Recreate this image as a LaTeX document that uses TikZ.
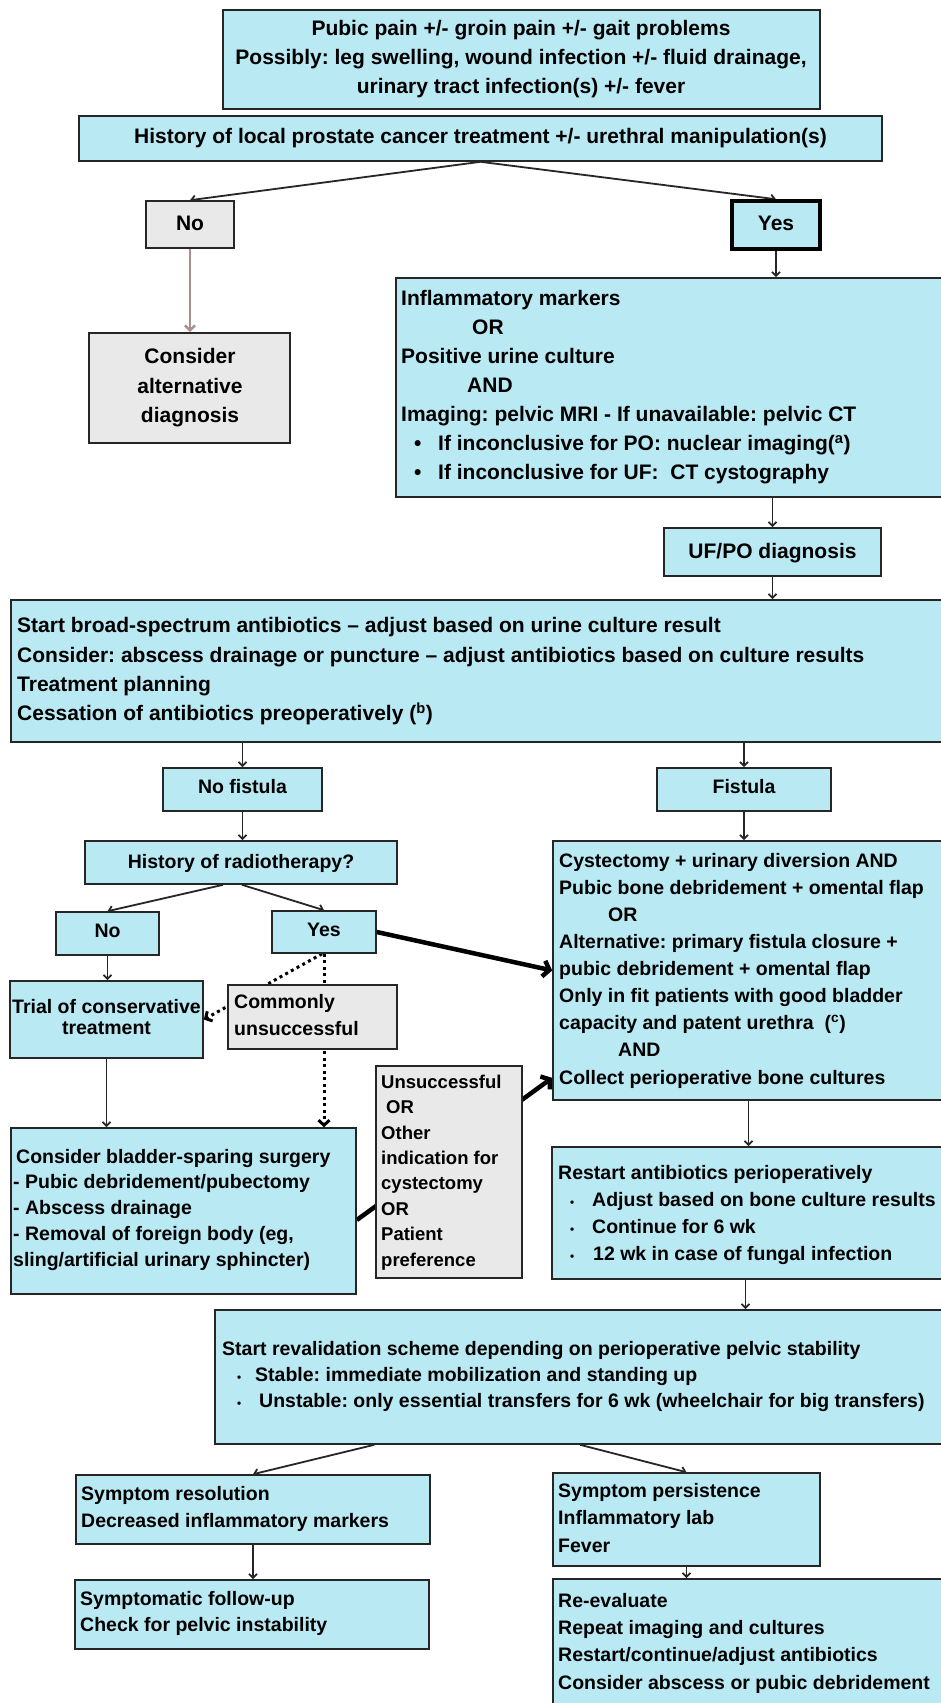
\documentclass[tikz,border=0pt]{standalone}
\usepackage{fontspec}
\usepackage{graphicx}
\setmainfont{Liberation Sans}
\usetikzlibrary{arrows.meta,backgrounds}
\definecolor{cyanf}{RGB}{185,233,243}
\definecolor{grayf}{RGB}{233,233,233}
\definecolor{bordc}{RGB}{38,38,38}
\definecolor{nolink}{RGB}{168,144,144}
\newcommand\fl{\rule{0pt}{21pt}}
\newcommand\sdot{\scalebox{0.6}{\textbullet}}
\newcommand\mkbox[6]{\node[#6, minimum width={#4-#2}, minimum height={#5-#3}] (#1) at ({(#2+#4)/2},{(#3+#5)/2}) {};}
\frenchspacing
\begin{document}
\frenchspacing
\begin{tikzpicture}[x=1pt,y=-1pt,
  box/.style={draw=bordc, line width=1.6pt, fill=cyanf, inner sep=0pt, rectangle},
  gbox/.style={box, fill=grayf},
  fs/.style 2 args={font=\fontsize{#1}{#2}\selectfont\bfseries\frenchspacing},
  tl/.style={anchor=north west, inner sep=0pt, align=left},
  tc/.style={anchor=north, inner sep=0pt, align=center},
  con/.style={draw=bordc, line width=1.8pt, -{Straight Barb[length=4pt,width=8pt]}},
  thk/.style={draw=black, line width=4.5pt, -{Straight Barb[length=6pt,width=16pt]}},
  dotcon/.style={draw=black, line width=3pt, dash pattern=on 3pt off 3.5pt, -{Straight Barb[length=5pt,width=11pt]}}
]
\useasboundingbox (0,0) rectangle (941,1703);

% ---------- boxes ----------
\mkbox{top}{223}{10}{820}{109}{box}
\mkbox{hist}{79}{116}{882}{161}{box}
\mkbox{no1}{146}{201}{234}{248}{gbox}
\mkbox{yes1}{732}{201}{820}{249}{box, draw=black, line width=3.5pt}
\mkbox{alt}{89}{333}{290}{443}{gbox}
\mkbox{infl}{396}{278}{945}{497}{box}
\mkbox{ufpo}{664}{528}{881}{576}{box}
\mkbox{big}{11}{600}{945}{742}{box}
\mkbox{nofist}{163}{768}{322}{811}{box}
\mkbox{fist}{657}{768}{831}{811}{box}
\mkbox{hrad}{85}{841}{397}{884}{box}
\mkbox{cyst}{553}{841}{945}{1100}{box}
\mkbox{no2}{56}{912}{159}{955}{box}
\mkbox{yes2}{272}{911}{376}{953}{box}
\mkbox{trial}{10}{981}{203}{1058}{box}
\mkbox{common}{228}{985}{397}{1049}{gbox}
\mkbox{bladder}{11}{1128}{356}{1294}{box}
\mkbox{unsucc}{376}{1066}{522}{1278}{gbox}
\mkbox{restart}{552}{1147}{945}{1279}{box}
\mkbox{reval}{215}{1310}{945}{1444}{box}
\mkbox{sres}{76}{1475}{430}{1544}{box}
\mkbox{spers}{553}{1473}{820}{1566}{box}
\mkbox{sfu}{75}{1580}{429}{1649}{box}
\mkbox{reeval}{553}{1579}{945}{1720}{box}

% ---------- texts ----------
\node[tc, fs={21}{29}] (t-top) at (521,14.5) {\fl Pubic pain +/- groin pain +/- gait problems\\Possibly: leg swelling, wound infection +/- fluid drainage,\\urinary tract infection(s) +/- fever};
\node[tc, fs={21}{29}] (t-hist) at (480.5,122.5) {\fl History of local prostate cancer treatment +/- urethral manipulation(s)};
\node[tc, fs={21}{29}] (t-no1) at (190,209.5) {\fl No};
\node[tc, fs={21}{29}] (t-yes1) at (776,209.5) {\fl Yes};
\node[tc, fs={21}{29.5}] (t-alt) at (190,342.5) {\fl Consider\\alternative\\diagnosis};
\node[tl, fs={21}{29}] (t-infl) at (401,284.5) {\fl Inflammatory markers\\
\hspace*{71pt}OR\\
Positive urine culture\\
\hspace*{66pt}AND\\
Imaging: pelvic MRI - If unavailable: pelvic CT\\
\hspace*{13pt}\makebox[24pt][l]{\textbullet}If inconclusive for PO: nuclear imaging(\textsuperscript{a})\\
\hspace*{13pt}\makebox[24pt][l]{\textbullet}If inconclusive for UF:\ \ CT cystography};
\node[tc, fs={21}{29}] (t-ufpo) at (772.5,537.5) {\fl UF/PO diagnosis};
\node[tl, fs={21}{29.3}] (t-big) at (17,611.5) {\fl Start broad-spectrum antibiotics – adjust based on urine culture result\\
Consider: abscess drainage or puncture – adjust antibiotics based on culture results\\
Treatment planning\\
Cessation of antibiotics preoperatively (\textsuperscript{b})};

\node[tc, fs={19.5}{27}] (t-nofist) at (242.5,772) {\fl No fistula};
\node[tc, fs={19.5}{27}] (t-fist) at (744,772) {\fl Fistula};
\node[tc, fs={19.5}{27}] (t-hrad) at (241,847) {\fl History of radiotherapy?};
\node[tl, fs={19.5}{27.1}] (t-cyst) at (559,846) {\fl Cystectomy + urinary diversion AND\\
Pubic bone debridement + omental flap\\
\hspace*{49pt}OR\\
Alternative: primary fistula closure +\\
pubic debridement + omental flap\\
Only in fit patients with good bladder\\
capacity and patent urethra\ \ (\textsuperscript{c})\\
\hspace*{59pt}AND\\
Collect perioperative bone cultures};
\node[tc, fs={19.5}{27}] (t-no2) at (107.5,916) {\fl No};
\node[tc, fs={19.5}{27}] (t-yes2) at (324,915) {\fl Yes};
\node[tc, fs={19.5}{21}] (t-trial) at (106.5,992) {\fl Trial of conservative\\treatment};
\node[tl, fs={19.5}{27}] (t-common) at (234,987) {\fl Commonly\\unsuccessful};
\node[tl, fs={19.5}{25.75}] (t-bladder) at (13,1142) {\fl \hspace*{3pt}Consider bladder-sparing surgery\\
- Pubic debridement/pubectomy\\
- Abscess drainage\\
- Removal of foreign body (eg,\\
sling/artificial urinary sphincter)};
\node[tl, fs={18.5}{25.4}] (t-unsucc) at (381,1067) {\fl Unsuccessful\\
\hspace*{5pt}OR\\
Other\\
indication for\\
cystectomy\\
OR\\
Patient\\
preference};
\node[tl, fs={19.5}{27}] (t-restart) at (558,1158) {\fl Restart antibiotics perioperatively\\
\hspace*{12pt}\makebox[22pt][l]{\sdot}Adjust based on bone culture results\\
\hspace*{12pt}\makebox[22pt][l]{\sdot}Continue for 6 wk\\
\hspace*{12pt}\makebox[23pt][l]{\sdot}12 wk\ in case of fungal infection};
\node[tl, fs={19.5}{26}] (t-reval) at (222,1334) {\fl Start revalidation scheme depending on perioperative pelvic stability\\
\hspace*{15pt}\makebox[18pt][l]{\sdot}Stable: immediate mobilization and standing up\\
\hspace*{15pt}\makebox[22pt][l]{\sdot}Unstable: only essential transfers for 6 wk (wheelchair for big transfers)};
\node[tl, fs={19.5}{27}] (t-sres) at (81,1479) {\fl Symptom resolution\\Decreased inflammatory markers};
\node[tl, fs={19.5}{27.5}] (t-spers) at (558,1476) {\fl Symptom persistence\\Inflammatory lab\\Fever};
\node[tl, fs={19.5}{26}] (t-sfu) at (80,1584) {\fl Symptomatic follow-up\\Check for pelvic instability};
\node[tl, fs={19.5}{27.3}] (t-reeval) at (558,1586) {\fl Re-evaluate\\Repeat imaging and cultures\\Restart/continue/adjust antibiotics\\Consider abscess or pubic debridement};

% ---------- connectors (behind boxes) ----------
\begin{pgfonlayer}{background}
\fill[white] (-5,-5) rectangle (950,1710);
\draw[con] (hist.south) -- (no1.north);
\draw[con] (hist.south) -- (yes1.north);
\draw[con] (yes1.south) -- (yes1.south |- infl.north);
\draw[con, draw=nolink, line width=2.6pt, -{Straight Barb[length=5pt,width=10pt]}] (no1.south) -- (no1.south |- alt.north);
\draw[con] (ufpo.north |- infl.south) -- (ufpo.north);
\draw[con] (ufpo.south) -- (ufpo.south |- big.north);
\draw[con] (nofist.north |- big.south) -- (nofist.north);
\draw[con] (fist.north |- big.south) -- (fist.north);
\draw[con] (nofist.south) -- (nofist.south |- hrad.north);
\draw[con] (fist.south) -- (fist.south |- cyst.north);
\coordinate (hl) at ([xshift=-18pt]hrad.south);
\coordinate (hr) at ([xshift=1pt]hrad.south);
\draw[con] (hl) -- (no2.north);
\draw[con] (hr) -- (yes2.north);
\draw[con] (no2.south) -- (no2.south |- trial.north);
\draw[thk] (yes2.east) -- (cyst.west);
\coordinate (ys) at ([xshift=-2pt]yes2.south);
\draw[dotcon] (ys) -- (trial.east);
\draw[dotcon] (yes2.south) -- (yes2.south |- bladder.north);
\draw[con] (trial.south) -- (trial.south |- bladder.north);
\coordinate (be) at ([yshift=-9pt]bladder.east);
\coordinate (cw) at ([yshift=23pt]cyst.south west);
\draw[thk] (be) -- (cw);
\draw[con] (restart.north |- cyst.south) -- (restart.north);
\coordinate (rs) at ([xshift=-3pt]restart.south);
\draw[con] (rs) -- (rs |- reval.north);
\coordinate (rl) at ([xshift=160pt]reval.south west);
\coordinate (rr) at ([xshift=366pt]reval.south west);
\draw[con] (rl) -- (sres.north);
\draw[con] (rr) -- (spers.north);
\draw[con] (sres.south) -- (sres.south |- sfu.north);
\draw[con] (spers.south) -- (spers.south |- reeval.north);
\end{pgfonlayer}
\end{tikzpicture}
\end{document}
